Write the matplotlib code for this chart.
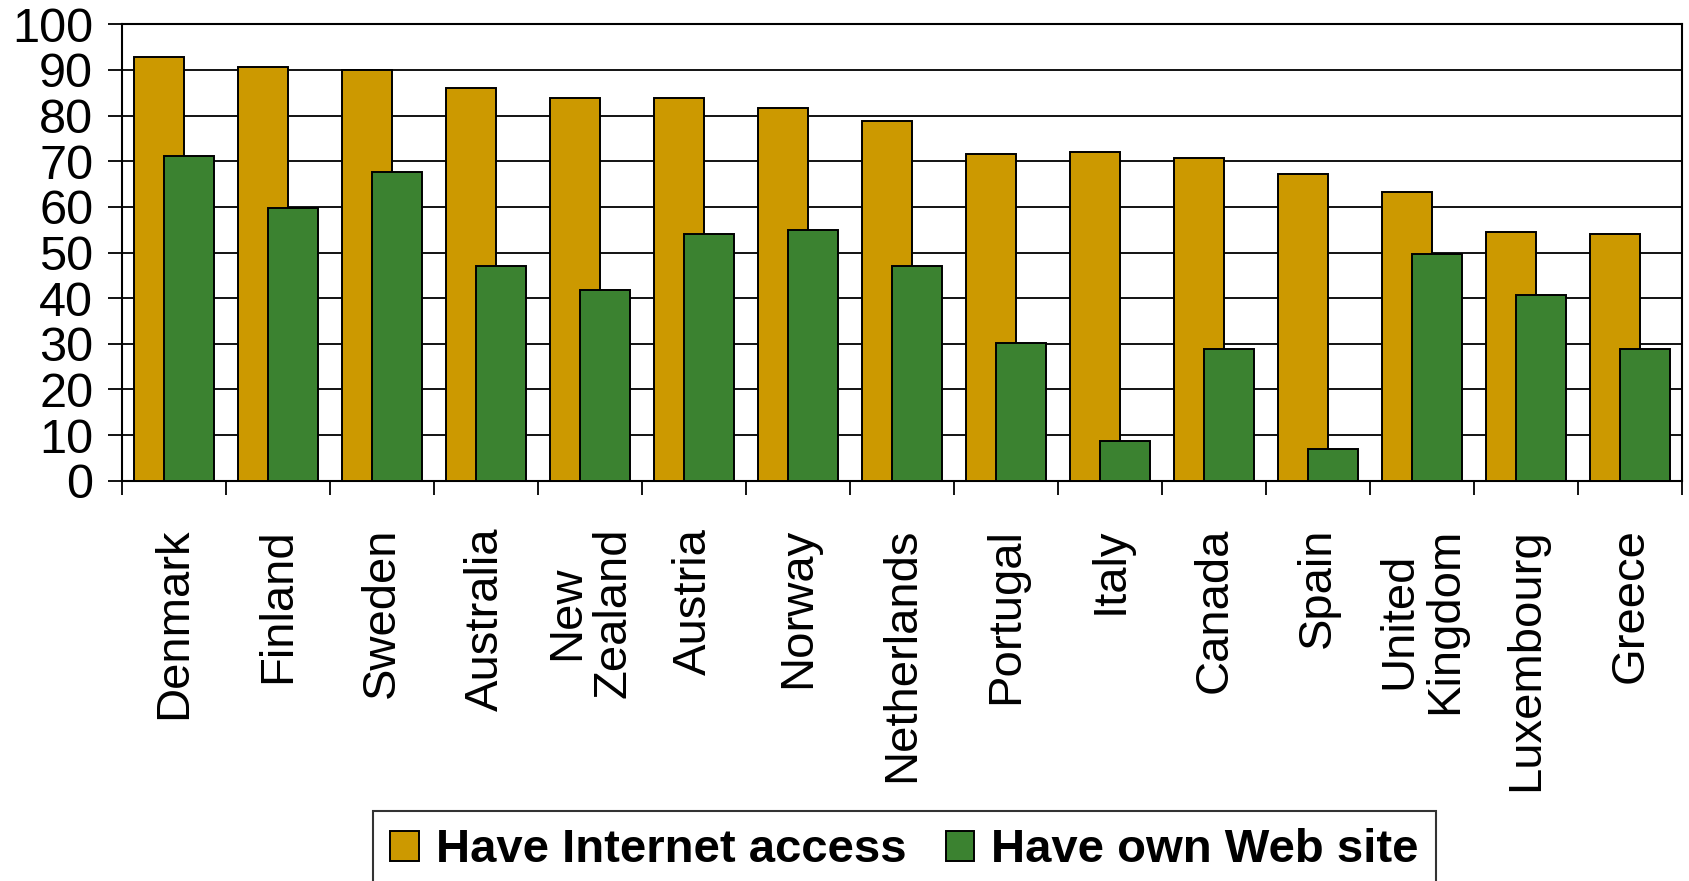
import matplotlib
matplotlib.use("Agg")
import matplotlib.pyplot as plt
import numpy as np

plt.rcParams['font.family'] = ['Liberation Sans', 'DejaVu Sans']

# Share of enterprises (%) by country
countries = ["Denmark", "Finland", "Sweden", "Australia", "New\nZealand", "Austria",
             "Norway", "Netherlands", "Portugal", "Italy", "Canada", "Spain",
             "United\nKingdom", "Luxembourg", "Greece"]
internet_access = [92.8, 90.7, 90.0, 86.0, 83.8, 83.8, 81.7, 78.9, 71.5, 72.0,
                   70.7, 67.3, 63.2, 54.6, 54.1]
own_web_site = [71.1, 59.7, 67.6, 47.1, 41.8, 54.1, 55.0, 47.1, 30.1, 8.7,
                28.8, 6.9, 49.6, 40.6, 28.8]
series_labels = ["Have Internet access", "Have own Web site"]
y_ticks = list(range(0, 101, 10))

orange = "#CC9900"
green = "#3B8230"

W, H = 1689, 881
fig = plt.figure(figsize=(W / 100, H / 100), dpi=100)
ax = fig.add_axes([122.3 / W, 1 - 480.7 / H, 1560 / W, 456.4 / H])

x = np.arange(len(countries))
bw = 0.48
off = 0.145
ax.bar(x - off, internet_access, width=bw, color=orange, edgecolor="black",
       linewidth=1.4, label=series_labels[0], zorder=3)
ax.bar(x + off, own_web_site, width=bw, color=green, edgecolor="black",
       linewidth=1.4, label=series_labels[1], zorder=4)

ax.set_xlim(-0.5, len(countries) - 0.5)
ax.set_ylim(0, 100)

# horizontal gridlines
ax.set_yticks(y_ticks)
ax.yaxis.grid(True, color="black", linewidth=1.3, zorder=1)
ax.set_axisbelow(True)
ax.tick_params(axis="y", direction="out", length=10, width=1.3, pad=11,
               labelsize=35, colors="black")

# category labels at centres, tick marks at category boundaries
ax.set_xticks(x)
ax.set_xticklabels(countries, rotation=90, fontsize=34, va="top", ha="center",
                   multialignment="center", linespacing=1.05)
ax.tick_params(axis="x", which="major", length=0, pad=34)
ax.set_xticks(np.arange(-0.5, len(countries) + 0.5, 1), minor=True)
ax.tick_params(axis="x", which="minor", direction="out", length=10, width=1.3)

for s in ax.spines.values():
    s.set_color("black")
    s.set_linewidth(1.5)

leg = fig.legend(loc="upper left", bbox_to_anchor=(373 / W, 1 - 811 / H),
                 bbox_transform=fig.transFigure, ncol=2, frameon=True,
                 fancybox=False, shadow=False, borderaxespad=0,
                 prop={"weight": "bold", "size": 34},
                 handlelength=0.6, handleheight=0.6, handletextpad=0.37,
                 columnspacing=0.82, borderpad=0.37)
leg.get_frame().set_edgecolor("black")
leg.get_frame().set_linewidth(1.5)

fig.savefig("out.png", dpi=100)
